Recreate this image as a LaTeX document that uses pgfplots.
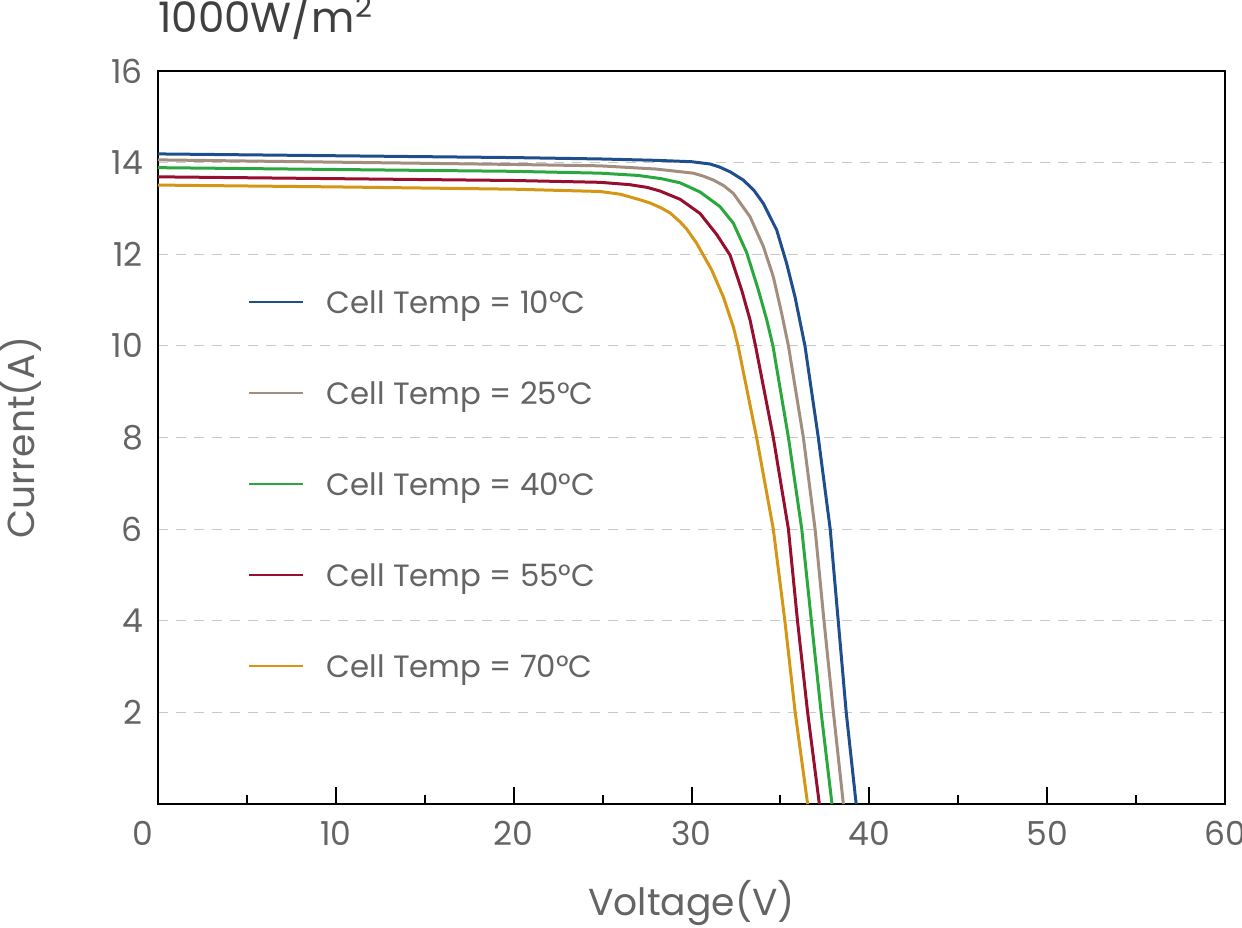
\documentclass[border=0pt]{standalone}
\usepackage{fontspec}
\setmainfont{Poppins}
\usepackage{pgfplots}
\pgfplotsset{compat=1.18}
\definecolor{cBlue}{RGB}{30,78,140}
\definecolor{cTaupe}{RGB}{162,142,126}
\definecolor{cGreen}{RGB}{42,168,62}
\definecolor{cRed}{RGB}{152,14,46}
\definecolor{cOrange}{RGB}{212,150,20}
\definecolor{txt}{RGB}{100,100,100}
\definecolor{ttl}{RGB}{64,64,64}
\definecolor{gridc}{RGB}{200,200,200}
\begin{document}
\begin{tikzpicture}
\begin{axis}[
  at={(0,0)}, anchor=south west,
  scale only axis, width=533.5pt, height=366.5pt,
  xmin=0, xmax=60, ymin=0, ymax=16,
  axis line style={black, line width=1pt},
  xtick={0,10,...,60},
  xticklabels={{\makebox[0pt]{\hspace{-15pt}0}},10,20,30,40,50,60},
  minor xtick={5,15,...,55},
  xtick pos=bottom, tick align=inside,
  major tick length=8.5pt, minor tick length=4.5pt,
  every tick/.style={black, line width=1pt},
  ytick={2,4,...,16},
  ytick style={draw=none},
  ymajorgrids,
  major grid style={gridc, line width=0.5pt, dash pattern=on 5pt off 4pt},
  /pgf/number format/assume math mode=true,
  tick label style={font=\fontsize{16.5}{20}\selectfont, text=txt},
  yticklabel style={xshift=-4pt},
  xticklabel style={yshift=-5pt},
  xlabel={Voltage(V)},
  ylabel={Current(A)},
  label style={font=\fontsize{18.8}{22}\selectfont, text=txt},
  xlabel style={at={(axis description cs:0.5,-0.1525)}, anchor=base},
  ylabel style={at={(axis description cs:-0.1153,0.5)}, anchor=base, rotate=0},
  title={1000W/m\textsuperscript{2}},
  title style={at={(axis description cs:0,1.0355)}, anchor=base west, font=\fontsize{21}{24}\selectfont, text=ttl, inner sep=0pt},
  legend cell align=left,
  legend style={at={(axis description cs:0.0843,0.6999)}, anchor=north west, draw=none, fill=none, inner sep=0pt, row sep=34.5pt,
    font=\fontsize{15.4}{19}\selectfont, text=txt,
    nodes={inner xsep=0pt, inner ysep=0pt, text height=11pt, text depth=0pt}},
  legend image code/.code={\draw[#1, line width=1pt] (0pt,0pt) -- (27pt,0pt); \path (38pt,0pt);},
]
\addplot[cBlue, line width=1.5pt] coordinates {
(0,14.19) (10,14.15) (20,14.11) (24.86,14.08) (28,14.05) (30,14.02) (31.05,13.97) (31.6,13.9) (32.17,13.8) (32.91,13.62) (33.5,13.4) (34.04,13.11) (34.79,12.53) (35.35,11.8) (35.82,11.07) (36.38,10) (37.13,8) (37.8,6) (38.25,4) (38.7,2) (39.26,0)};
\addlegendentry{Cell Temp = 10°C}
\addplot[cTaupe, line width=1.5pt] coordinates {
(0,14.06) (10,14.01) (20,13.96) (24.86,13.93) (28,13.86) (30.1,13.77) (30.7,13.7) (31.23,13.62) (31.8,13.5) (32.35,13.33) (33.29,12.82) (34.04,12.17) (34.6,11.51) (35.07,10.71) (35.45,10) (36.29,8) (36.95,6) (37.45,4) (37.98,2) (38.54,0)};
\addlegendentry{Cell Temp = 25°C}
\addplot[cGreen, line width=1.5pt] coordinates {
(0,13.89) (10,13.85) (20,13.81) (24.86,13.77) (27,13.72) (28.3,13.65) (29.35,13.56) (30.48,13.36) (31.6,13.04) (32.35,12.68) (33.1,12.04) (33.76,11.22) (34.23,10.57) (34.58,10) (35.45,8) (36.2,6) (36.74,4) (37.29,2) (37.9,0)};
\addlegendentry{Cell Temp = 40°C}
\addplot[cRed, line width=1.5pt] coordinates {
(0,13.69) (10,13.65) (20,13.61) (24.86,13.57) (26.5,13.52) (27.5,13.46) (28.23,13.38) (29.36,13.2) (30.48,12.89) (31.42,12.43) (32.17,11.98) (32.82,11.22) (33.29,10.57) (33.6,10) (34.6,8) (35.45,6) (35.96,4) (36.53,2) (37.19,0)};
\addlegendentry{Cell Temp = 55°C}
\addplot[cOrange, line width=1.5pt] coordinates {
(0,13.51) (10,13.47) (20,13.42) (24.86,13.37) (26,13.31) (27,13.2) (27.67,13.12) (28.3,13.01) (28.8,12.9) (29.35,12.71) (29.73,12.55) (30.29,12.24) (31.13,11.66) (31.79,11.07) (32.35,10.42) (32.62,10) (33.66,8) (34.6,6) (35.25,4) (35.83,2) (36.53,0)};
\addlegendentry{Cell Temp = 70°C}
\end{axis}
\pgfresetboundingbox
\path (-79pt,-61.5pt) rectangle (542pt,402pt);
\end{tikzpicture}
\end{document}
